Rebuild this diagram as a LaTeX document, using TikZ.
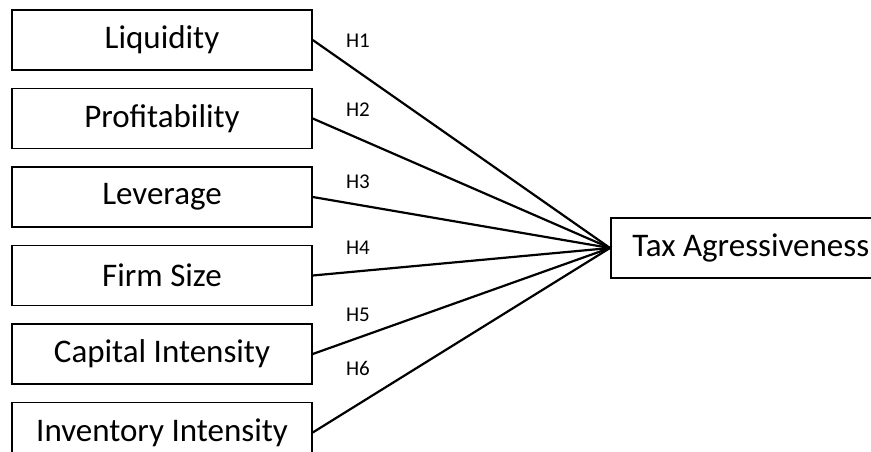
\documentclass[tikz,border=0pt]{standalone}
\usepackage{fontspec}
\setmainfont{Carlito}
\usetikzlibrary{positioning}

\begin{document}
\begin{tikzpicture}[
    x=1pt, y=-1pt,
    node distance=17pt,
    var/.style={draw, line width=1.5pt, minimum width=300pt, minimum height=60pt, inner sep=0pt, font=\fontsize{33}{38}\selectfont},
    dep/.style={draw, line width=1.5pt, minimum width=280pt, minimum height=60pt, inner sep=0pt, font=\fontsize{33}{38}\selectfont},
    hyp/.style={font=\fontsize{21}{24}\selectfont},
    link/.style={line width=2.2pt}
  ]
  \path[use as bounding box, clip] (0,0) rectangle (871,452);

  \node[var] (liq) at (162,40) {Liquidity};
  \node[var, below=of liq] (prof) {Profitability};
  \node[var, below=of prof] (lev) {Leverage};
  \node[var, below=of lev] (size) {Firm Size};
  \node[var, below=of size] (cap) {Capital Intensity};
  \node[var, below=of cap] (inv) {Inventory Intensity};
  \node[dep, anchor=west] (tax) at (610,248) {Tax Agressiveness};

  \node[hyp] (h1) at (358,41) {H1};
  \node[hyp] (h2) at (358,110) {H2};
  \node[hyp] (h3) at (358,182) {H3};
  \node[hyp] (h4) at (358,248) {H4};
  \node[hyp] (h5) at (358,315) {H5};
  \node[hyp] (h6) at (358,368) {H6};

  \draw[link] (liq.east) -- (tax.west);
  \draw[link] (prof.east) -- (tax.west);
  \draw[link] (lev.east) -- (tax.west);
  \draw[link] (size.east) -- (tax.west);
  \draw[link] (cap.east) -- (tax.west);
  \draw[link] (inv.east) -- (tax.west);
\end{tikzpicture}
\end{document}
